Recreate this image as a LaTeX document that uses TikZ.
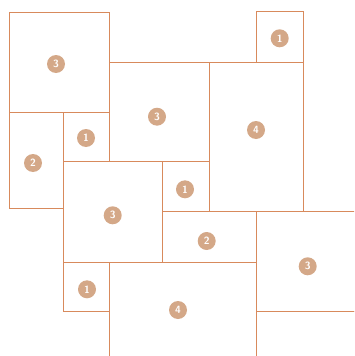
\documentclass[tikz,border=0pt]{standalone}
\usepackage{tikz}
\usetikzlibrary{positioning}
\definecolor{plotline}{RGB}{216,138,92}
\definecolor{plotdot}{RGB}{212,168,136}
\tikzset{
  plotedge/.style={draw=plotline,line width=0.9pt},
  numdot/.style={circle,fill=plotdot,minimum size=18pt,inner sep=0pt,
    text=white,font=\fontsize{10.5}{11}\selectfont\sffamily\bfseries},
}

\begin{document}
\begin{tikzpicture}[x=1pt,y=-1pt]
  \useasboundingbox (0,0) rectangle (354,356);
  \clip (0,0) rectangle (354,356);
  % plots
  \draw[plotedge] (9.3,12.7) rectangle (109.3,112);
  \draw[plotedge] (9.3,112) rectangle (63.3,208);
  \draw[plotedge] (63.3,112) rectangle (109.3,161.3);
  \draw[plotedge] (109.3,62) rectangle (209,161.3);
  \draw[plotedge] (256.3,11.7) rectangle (303.3,62);
  \draw[plotedge] (209,62) rectangle (303.3,211);
  \draw[plotedge] (63.3,161.3) rectangle (162.3,262);
  \draw[plotedge] (162.3,161.3) rectangle (209,211);
  \draw[plotedge] (162.3,211) rectangle (256.3,262);
  \draw[plotedge] (256.3,211) rectangle (360,311);
  \draw[plotedge] (63.3,262) rectangle (109.3,311);
  \draw[plotedge] (109.3,262) rectangle (256.3,362);
  \draw[plotedge] (256.3,311) rectangle (360,362);
  % numbers
  \node[numdot] (a) at (56,64) {3};
  \node[numdot] (b) at (33,163) {2};
  \node[numdot] (c) at (86,138) {1};
  \node[numdot] (d) at (157,116.7) {3};
  \node[numdot] (e) at (279.7,38.3) {1};
  \node[numdot] (f) at (256,130) {4};
  \node[numdot] (g) at (112.7,215.3) {3};
  \node[numdot] (h) at (185,189.3) {1};
  \node[numdot] (i) at (206.7,241) {2};
  \node[numdot] (j) at (307.7,266.3) {3};
  \node[numdot] (k) at (87,289.3) {1};
  \node[numdot] (l) at (178,310) {4};
\end{tikzpicture}
\end{document}
